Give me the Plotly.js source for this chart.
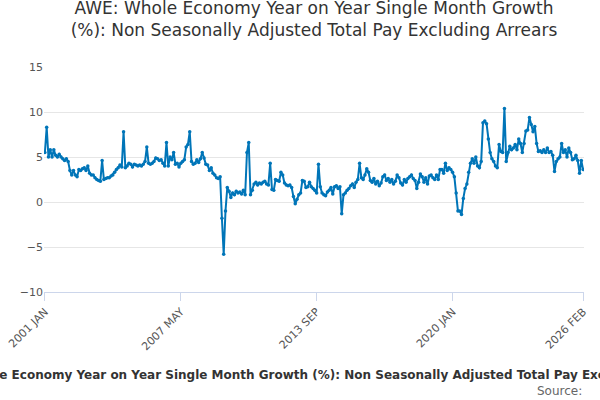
<!DOCTYPE html>
<html>
<head>
<script src="https://cdn.plot.ly/plotly-3.0.1.min.js"></script>
<style>body{margin:0}#chart{width:600px;height:400px}</style>
</head>
<body>
<div id="chart"></div>
<script>
var months = ['JAN','FEB','MAR','APR','MAY','JUN','JUL','AUG','SEP','OCT','NOV','DEC'];
var startYear = 2001;
var growth = [
  5.5, 8.3, 5.0, 5.8, 5.0, 5.8, 5.2, 5.0, 5.3, 5.0, 4.8, 4.6,
  4.8, 4.5, 3.5, 3.0, 3.5, 3.0, 2.8, 3.6, 3.5, 3.7, 3.8, 3.5,
  4.0, 3.2, 3.0, 3.0, 2.7, 2.5, 2.4, 2.3, 4.6, 2.5, 2.6, 2.7,
  2.7, 2.9, 3.0, 3.3, 3.6, 3.8, 4.1, 3.9, 7.8, 3.8, 4.0, 4.3,
  4.2, 3.9, 4.2, 4.1, 4.0, 4.1, 4.0, 4.2, 4.5, 6.1, 4.3, 4.2,
  4.3, 4.5, 4.9, 4.8, 4.6, 4.7, 4.3, 4.0, 6.6, 4.0, 5.0, 4.7,
  5.5, 4.2, 4.3, 3.9, 4.3, 4.5, 4.7, 6.1, 6.4, 7.8, 4.5, 4.2,
  4.3, 4.7, 4.4, 4.8, 5.5, 4.9, 4.2, 4.1, 3.5, 3.8, 3.2, 3.0,
  2.7, 2.6, 2.8, -1.8, -5.8, -1.0, 1.6, 1.2, 0.5, 1.0, 0.8, 1.2,
  1.0, 1.1, 0.9, 1.3, 0.8, 5.5, 6.6, 0.8, 1.3, 2.0, 2.2, 1.9,
  2.1, 2.0, 2.2, 2.3, 2.0, 1.9, 4.3, 1.4, 1.3, 2.5, 2.4, 2.3,
  3.3, 3.0, 2.1, 1.9, 1.8, 1.9, 1.6, 0.6, -0.2, 0.3, 0.8, 1.0,
  2.4, 2.3, 1.6, 1.7, 2.2, 1.7, 1.5, 1.3, 1.0, 4.2, 1.7, 1.0,
  0.8, 0.7, 1.1, 1.3, 1.6, 0.9, 1.7, 1.8, 1.5, 1.7, -1.3, 0.8,
  1.0, 1.3, 1.5, 1.8, 2.0, 1.6, 2.2, 2.5, 4.3, 2.7, 2.5, 3.0,
  3.7, 3.3, 2.4, 2.2, 2.6, 2.0, 2.3, 1.8, 2.1, 2.8, 3.0, 2.4,
  2.6, 2.2, 2.5, 2.0, 2.3, 3.0, 2.7, 2.1, 1.9, 2.5, 2.2, 2.6,
  2.8, 3.0, 2.6, 2.4, 1.5, 2.2, 3.1, 2.8, 2.2, 2.7, 2.0, 2.9,
  3.0, 2.7, 2.5, 3.0, 2.5, 3.6, 3.6, 3.2, 4.3, 3.5, 3.8, 3.6,
  3.3, 2.8, 1.0, -1.0, -1.0, -1.4, 0.4, 1.5, 2.0, 3.3, 4.3, 4.8,
  4.3, 5.0, 4.0, 3.8, 4.5, 8.8, 9.0, 8.7, 7.0, 5.5, 4.8, 4.5,
  4.0, 3.8, 6.4, 5.6, 5.5, 10.4, 4.5, 5.5, 6.2, 5.8, 6.0, 6.4,
  5.8, 7.0, 6.5, 5.5, 6.5, 7.9, 8.0, 9.4, 8.6, 7.8, 8.4, 6.5,
  5.6, 5.7, 5.5, 5.8, 5.5, 6.0, 5.5, 5.6, 5.2, 3.4, 4.5, 4.8,
  5.0, 6.5, 5.5, 5.8, 5.0, 6.0, 5.5, 4.7, 4.8, 5.2, 4.6, 3.2,
  4.6, 3.6
];
var tickLabels = ['2001 JAN', '2007 MAY', '2013 SEP', '2020 JAN', '2026 FEB'];

var dates = growth.map(function (v, i) {
  return (startYear + Math.floor(i / 12)) + ' ' + months[i % 12];
});

var trace = {
  x: dates,
  y: growth,
  type: 'scatter',
  mode: 'lines+markers',
  line: {color: '#0075b8', width: 2},
  marker: {color: '#0075b8', size: 3.5},
  hoverinfo: 'x+y'
};

var layout = {
  width: 600,
  height: 400,
  margin: {l: 44, r: 16, t: 67, b: 108},
  paper_bgcolor: '#fff',
  plot_bgcolor: '#fff',
  font: {family: 'DejaVu Sans, sans-serif', color: '#555'},
  title: {
    text: 'AWE: Whole Economy Year on Year Single Month Growth<br>(%): Non Seasonally Adjusted Total Pay Excluding Arrears',
    font: {size: 17, color: '#333'},
    xref: 'paper', yref: 'container',
    x: 0.5, y: 0.965, yanchor: 'top', automargin: false
  },
  xaxis: {
    type: 'category',
    tickvals: tickLabels,
    ticktext: tickLabels,
    tickangle: -45,
    tickfont: {size: 11, color: '#555'},
    showgrid: false,
    showline: true,
    linecolor: '#ccd6eb',
    ticks: 'outside',
    tickcolor: '#ccd6eb',
    ticklen: 8,
    range: [-0.5, growth.length - 0.5]
  },
  yaxis: {
    range: [-10, 15],
    tickvals: [-10, -5, 0, 5, 10, 15],
    tickfont: {size: 11, color: '#555'},
    gridcolor: '#e6e6e6',
    zeroline: false
  },
  showlegend: false,
  annotations: [
    {
      text: '<b>AWE: Whole Economy Year on Year Single Month Growth (%): Non Seasonally Adjusted Total Pay Excluding Arrears</b>',
      xref: 'paper', yref: 'paper', x: 0.5, y: -0.37, xanchor: 'center', yanchor: 'middle', showarrow: false,
      font: {size: 12, color: '#333'}
    },
    {
      text: 'Source:',
      xref: 'paper', yref: 'paper', x: 1.0, y: -0.44, xanchor: 'right', yanchor: 'middle', showarrow: false,
      font: {size: 12, color: '#666'}
    }
  ]
};

Plotly.newPlot('chart', [trace], layout, {displayModeBar: false});
</script>
</body>
</html>
